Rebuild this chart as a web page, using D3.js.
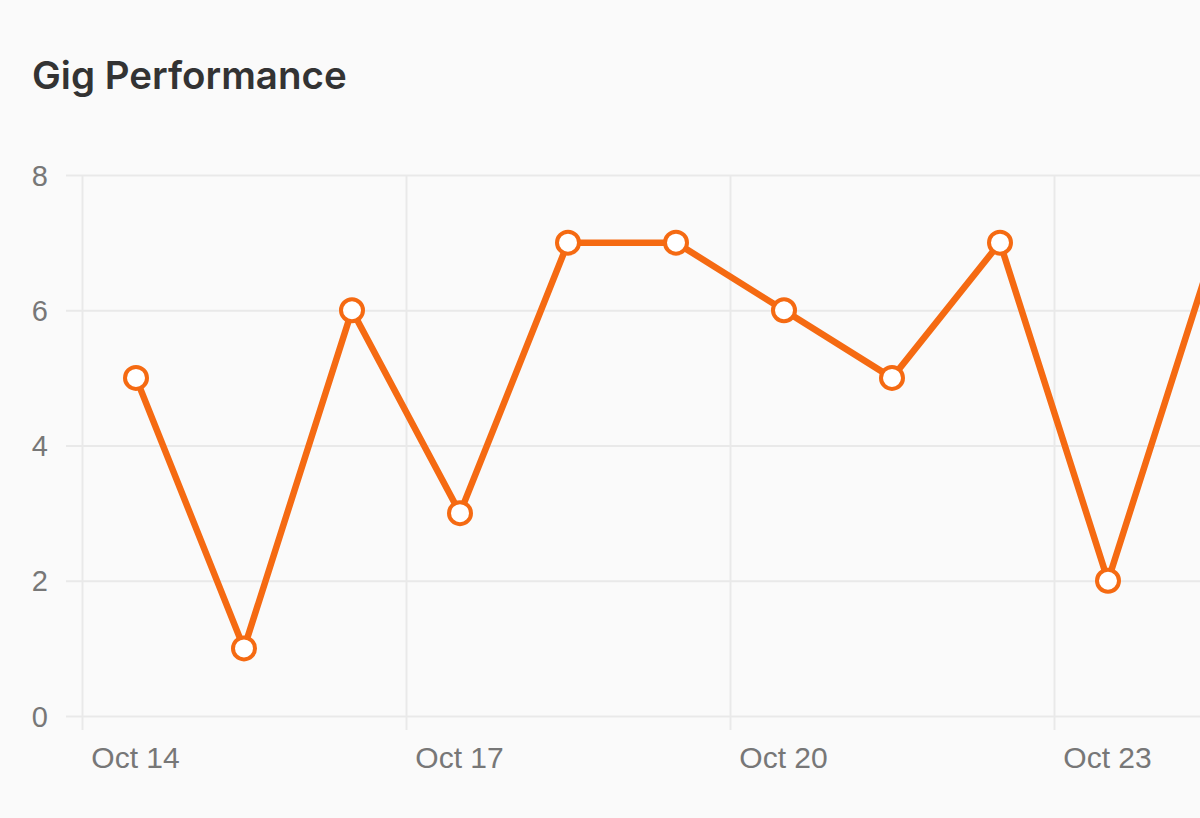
<!DOCTYPE html>
<html><head><meta charset="utf-8">
<script src="https://cdn.jsdelivr.net/npm/d3@7"></script>
<style>
html,body{margin:0;padding:0;background:#fafafa;overflow:hidden;}
svg{display:block;}
</style></head>
<body>
<svg id="chart" width="1200" height="818"></svg>
<script>
const dates = ["2023-10-14","2023-10-15","2023-10-16","2023-10-17","2023-10-18","2023-10-19","2023-10-20","2023-10-21","2023-10-22","2023-10-23","2023-10-24"];
const values = [5,1,6,3,7,7,6,5,7,2,7];
const yTicks = [0,2,4,6,8];
const xTickDates = ["2023-10-14","2023-10-17","2023-10-20","2023-10-23"];
const title = "Gig Performance";

const parse = d3.timeParse("%Y-%m-%d");
const svg = d3.select("#chart");
svg.append("rect").attr("width",1200).attr("height",818).attr("fill","#fafafa");

const x = d3.scaleTime().domain([parse("2023-10-14"), parse("2023-10-25")]).range([82, 82 + 11*108]);
const y = d3.scaleLinear().domain([0,8]).range([716,175]);
const noon = d => d3.timeHour.offset(parse(d), 12);

svg.append("text").attr("x",32).attr("y",89).text(title)
  .attr("font-family","Inter, 'Open Sans', sans-serif").attr("font-weight",600)
  .attr("font-size",38.5).attr("fill","#333");

// y axis grid
const yAxis = d3.axisLeft(y).tickValues(yTicks).tickSize(-(1300)).tickPadding(18).tickFormat(d3.format("d"));
const gy = svg.append("g").attr("transform","translate(66,0)").call(yAxis);
gy.select(".domain").remove();
gy.selectAll(".tick line").attr("stroke","#e9e9e9").attr("stroke-width",2);
gy.selectAll(".tick text").attr("font-family","'Liberation Sans', Arial, sans-serif").attr("font-size",29).attr("fill","#777").attr("dy","0.35em");

// x axis grid
const xAxis = d3.axisBottom(x).tickValues(xTickDates.map(parse)).tickSize(-(716-175)).tickFormat("");
const gx = svg.append("g").attr("transform","translate(0,716)").call(xAxis);
gx.select(".domain").remove();
gx.selectAll(".tick line").attr("stroke","#e9e9e9").attr("stroke-width",2).attr("y2",14).attr("y1",-(716-175));
gx.selectAll(".tick").append("text")
  .attr("x",53).attr("y",52).attr("text-anchor","middle")
  .attr("font-family","'Liberation Sans', Arial, sans-serif").attr("font-size",30).attr("fill","#777")
  .text(d => d3.timeFormat("%b %-d")(d));

const line = d3.line().x((d,i)=>x(noon(dates[i]))).y(d=>y(d));
svg.append("path").datum(values).attr("d",line).attr("fill","none")
  .attr("stroke","#f56a12").attr("stroke-width",6.5).attr("stroke-linejoin","round");

svg.selectAll("circle.pt").data(values).enter().append("circle").attr("class","pt")
  .attr("cx",(d,i)=>x(noon(dates[i]))).attr("cy",d=>y(d)).attr("r",11)
  .attr("fill","#fff").attr("stroke","#f56a12").attr("stroke-width",4);
</script>
</body></html>
